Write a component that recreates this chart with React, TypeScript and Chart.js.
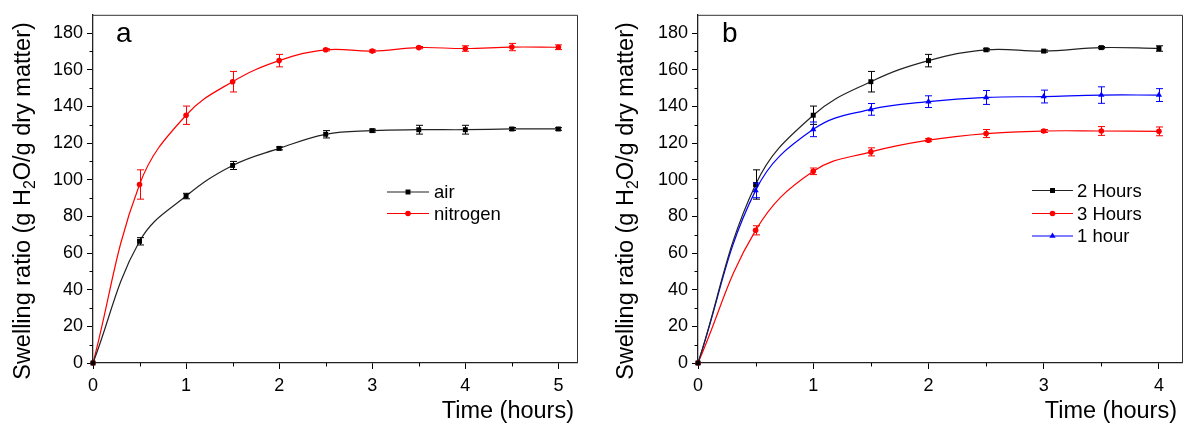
import React, { useEffect, useRef } from 'react';
import { Chart, registerables } from 'chart.js';

Chart.register(...registerables);

const FONT = "'Liberation Sans', Arial, sans-serif";

// ---------- data ----------
const timeA = [0, 0.5, 1, 1.5, 2, 2.5, 3, 3.5, 4, 4.5, 5];
const airValues = [0, 66.4, 91.1, 107.8, 117.1, 124.8, 126.8, 127.3, 127.3, 127.7, 127.7];
const airErrors = [0, 2, 1.5, 2.2, 0.8, 2, 0.8, 2.4, 2.4, 0.8, 0.7];
const nitrogenValues = [0, 97.4, 135.2, 153.5, 165, 170.9, 170.2, 172.1, 171.6, 172.4, 172.3];
const nitrogenErrors = [0, 8, 5, 5.6, 3.4, 0.6, 0.6, 0.6, 1.5, 2, 1.3];

const timeB = [0, 0.5, 1, 1.5, 2, 2.5, 3, 3.5, 4];
const twoHoursValues = [0, 97.4, 135.2, 153.5, 165, 170.9, 170.2, 172.1, 171.6];
const twoHoursErrors = [0, 8, 5, 5.6, 3.4, 0.6, 0.6, 0.6, 1.5];
const threeHoursValues = [0, 72.4, 104.6, 115.2, 121.6, 125.2, 126.6, 126.6, 126.4];
const threeHoursErrors = [0, 2.5, 1.8, 2.2, 0.8, 2.2, 0.8, 2.4, 2.4];
const oneHourValues = [0, 94.2, 127.5, 138.4, 142.6, 144.9, 145.4, 146.2, 146.2];
const oneHourErrors = [0, 4, 4, 3.2, 3.2, 3.8, 3.5, 4.5, 3.5];

const yMinorTicks = [10, 30, 50, 70, 90, 110, 130, 150, 170];
const xMinorTicksA = [0.5, 1.5, 2.5, 3.5, 4.5];
const xMinorTicksB = [0.5, 1.5, 2.5, 3.5];

const yTitleBefore = 'Swelling ratio (g H';
const yTitleSub = '2';
const yTitleAfter = 'O/g dry matter)';
const xTitle = 'Time (hours)';

type Marker = 'rect' | 'circle' | 'triangle';
type Series = {
  label: string;
  x: number[];
  y: number[];
  err: number[];
  color: string;
  lineColor: string;
  marker: Marker;
  radius: number;
};

type PanelCfg = {
  letter: string;
  series: Series[];
  xMax: number;
  xMinor: number[];
  yAxisWidth: number;
  rightPad: number;
  yTitleBaseX: number;
  xTitleRight: number;
  letterX: number;
  legendX0: number;
  legendX1: number;
  legendTextX: number;
  legendY: number[];
};

const panelA: PanelCfg = {
  letter: 'a',
  series: [
    { label: 'air', x: timeA, y: airValues, err: airErrors, color: '#000000', lineColor: '#222222', marker: 'rect', radius: 3.5 },
    { label: 'nitrogen', x: timeA, y: nitrogenValues, err: nitrogenErrors, color: '#ff0000', lineColor: '#ff0000', marker: 'circle', radius: 2.8 },
  ],
  xMax: 5.2,
  xMinor: xMinorTicksA,
  yAxisWidth: 93,
  rightPad: 19,
  yTitleBaseX: 30,
  xTitleRight: 574,
  letterX: 116,
  legendX0: 387,
  legendX1: 429,
  legendTextX: 434,
  legendY: [192, 213.5],
};

const panelB: PanelCfg = {
  letter: 'b',
  series: [
    { label: '2 Hours', x: timeB, y: twoHoursValues, err: twoHoursErrors, color: '#000000', lineColor: '#222222', marker: 'rect', radius: 3.5 },
    { label: '3 Hours', x: timeB, y: threeHoursValues, err: threeHoursErrors, color: '#ff0000', lineColor: '#ff0000', marker: 'circle', radius: 2.8 },
    { label: '1 hour', x: timeB, y: oneHourValues, err: oneHourErrors, color: '#0000ff', lineColor: '#0000ff', marker: 'triangle', radius: 3.6 },
  ],
  xMax: 4.2,
  xMinor: xMinorTicksB,
  yAxisWidth: 102,
  rightPad: 10,
  yTitleBaseX: 37,
  xTitleRight: 581,
  letterX: 126,
  legendX0: 436,
  legendX1: 477,
  legendTextX: 481,
  legendY: [190.5, 213.5, 236],
};

function drawMarker(ctx: CanvasRenderingContext2D, style: Marker, x: number, y: number, r: number, color: string) {
  ctx.save();
  ctx.fillStyle = color;
  ctx.beginPath();
  if (style === 'rect') {
    const s = r * Math.SQRT1_2;
    ctx.rect(x - s, y - s, 2 * s, 2 * s);
  } else if (style === 'triangle') {
    ctx.moveTo(x, y - r);
    ctx.lineTo(x + r * 0.866, y + r * 0.5);
    ctx.lineTo(x - r * 0.866, y + r * 0.5);
    ctx.closePath();
  } else {
    ctx.arc(x, y, r, 0, Math.PI * 2);
  }
  ctx.fill();
  ctx.restore();
}

function makeDecorPlugin(cfg: PanelCfg) {
  return {
    id: 'decor' + cfg.letter,
    afterDatasetsDraw(chart: any) {
      const ctx: CanvasRenderingContext2D = chart.ctx;
      const xs = chart.scales.x;
      const ys = chart.scales.y;
      cfg.series.forEach((s) => {
        ctx.save();
        ctx.strokeStyle = s.color;
        ctx.lineWidth = 1;
        s.x.forEach((xv, j) => {
          const e = s.err[j];
          if (!e) return;
          const px = Math.round(xs.getPixelForValue(xv)) + 0.5;
          const y1 = ys.getPixelForValue(s.y[j] + e);
          const y2 = ys.getPixelForValue(s.y[j] - e);
          ctx.beginPath();
          ctx.moveTo(px, y1);
          ctx.lineTo(px, y2);
          ctx.moveTo(px - 3.5, y1);
          ctx.lineTo(px + 3.5, y1);
          ctx.moveTo(px - 3.5, y2);
          ctx.lineTo(px + 3.5, y2);
          ctx.stroke();
        });
        ctx.restore();
      });
    },
    afterDraw(chart: any) {
      const ctx: CanvasRenderingContext2D = chart.ctx;
      const area = chart.chartArea;
      const xs = chart.scales.x;
      const ys = chart.scales.y;
      ctx.save();
      // frame top and right
      ctx.strokeStyle = '#333333';
      ctx.lineWidth = 1;
      ctx.beginPath();
      ctx.moveTo(area.left, area.top + 0.5);
      ctx.lineTo(area.right + 0.5, area.top + 0.5);
      ctx.lineTo(area.right + 0.5, area.bottom);
      ctx.stroke();
      // minor ticks
      ctx.strokeStyle = '#000000';
      ctx.beginPath();
      cfg.xMinor.forEach((v) => {
        const px = Math.round(xs.getPixelForValue(v)) + 0.5;
        ctx.moveTo(px, area.bottom);
        ctx.lineTo(px, area.bottom + 3.5);
      });
      yMinorTicks.forEach((v) => {
        const py = Math.round(ys.getPixelForValue(v)) + 0.5;
        ctx.moveTo(area.left, py);
        ctx.lineTo(area.left - 3.5, py);
      });
      ctx.stroke();

      // panel letter
      ctx.fillStyle = '#000000';
      ctx.font = `28px ${FONT}`;
      ctx.textAlign = 'left';
      ctx.textBaseline = 'alphabetic';
      ctx.fillText(cfg.letter, cfg.letterX, 41.5);

      // x title
      ctx.font = `23.5px ${FONT}`;
      ctx.textAlign = 'right';
      ctx.fillText(xTitle, cfg.xTitleRight, 418);

      // y title with subscript
      const mainFont = `23.5px ${FONT}`;
      const subFont = `16px ${FONT}`;
      ctx.font = mainFont;
      const w1 = ctx.measureText(yTitleBefore).width;
      const w3 = ctx.measureText(yTitleAfter).width;
      ctx.font = subFont;
      const w2 = ctx.measureText(yTitleSub).width;
      const total = w1 + w2 + w3;
      ctx.translate(cfg.yTitleBaseX, 201);
      ctx.rotate(-Math.PI / 2);
      ctx.textAlign = 'left';
      let cx = -total / 2;
      ctx.font = mainFont;
      ctx.fillText(yTitleBefore, cx, 0);
      cx += w1;
      ctx.font = subFont;
      ctx.fillText(yTitleSub, cx, 5);
      cx += w2;
      ctx.font = mainFont;
      ctx.fillText(yTitleAfter, cx, 0);
      ctx.setTransform(1, 0, 0, 1, 0, 0);

      // legend
      ctx.font = `18.5px ${FONT}`;
      ctx.textAlign = 'left';
      ctx.textBaseline = 'middle';
      cfg.series.forEach((s, i) => {
        const y = cfg.legendY[i];
        ctx.strokeStyle = s.lineColor;
        ctx.lineWidth = 1.2;
        ctx.beginPath();
        ctx.moveTo(cfg.legendX0, y);
        ctx.lineTo(cfg.legendX1, y);
        ctx.stroke();
        drawMarker(ctx, s.marker, (cfg.legendX0 + cfg.legendX1) / 2, y, s.radius, s.color);
        ctx.fillStyle = '#000000';
        ctx.fillText(s.label, cfg.legendTextX, y + 1);
      });
      ctx.restore();
    },
  };
}

function Panel({ cfg }: { cfg: PanelCfg }) {
  const ref = useRef<HTMLCanvasElement | null>(null);
  useEffect(() => {
    if (!ref.current) return;
    const tickFont = { family: FONT, size: 18 };
    const chart = new Chart(ref.current, {
      type: 'line',
      data: {
        datasets: cfg.series.map((s) => ({
          label: s.label,
          data: s.x.map((xv, j) => ({ x: xv, y: s.y[j] })),
          borderColor: s.lineColor,
          backgroundColor: s.color,
          pointBackgroundColor: s.color,
          pointBorderColor: s.color,
          pointBorderWidth: 0,
          pointStyle: s.marker,
          pointRadius: s.radius,
          borderWidth: 1.2,
          tension: 0.4,
          fill: false,
          clip: false as any,
        })),
      },
      options: {
        animation: false,
        responsive: false,
        maintainAspectRatio: false,
        layout: { padding: { left: 0, right: cfg.rightPad, top: 8, bottom: 0 } },
        plugins: {
          legend: { display: false },
          tooltip: { enabled: false },
          title: { display: false },
        },
        events: [],
        scales: {
          x: {
            type: 'linear',
            min: 0,
            max: cfg.xMax,
            ticks: {
              stepSize: 1,
              includeBounds: false,
              autoSkip: false,
              maxRotation: 0,
              padding: 6,
              color: '#000000',
              font: tickFont,
              callback: (v: any) => String(v),
            },
            grid: {
              drawOnChartArea: false,
              drawTicks: true,
              tickLength: 6,
              tickColor: '#000000',
              color: '#000000',
            },
            border: { color: '#222222', width: 1.3 },
            afterFit: (scale: any) => {
              scale.height = 67;
            },
          },
          y: {
            type: 'linear',
            min: 0,
            max: 190,
            ticks: {
              stepSize: 20,
              includeBounds: false,
              autoSkip: false,
              padding: 4,
              color: '#000000',
              font: tickFont,
              callback: (v: any) => String(v),
            },
            grid: {
              drawOnChartArea: false,
              drawTicks: true,
              tickLength: 6,
              tickColor: '#000000',
              color: '#000000',
            },
            border: { color: '#222222', width: 1.3 },
            afterFit: (scale: any) => {
              scale.width = cfg.yAxisWidth;
            },
          },
        },
      } as any,
      plugins: [makeDecorPlugin(cfg)],
    });
    return () => chart.destroy();
  }, [cfg]);
  return <canvas ref={ref} width={596} height={430} style={{ display: 'block', width: 596, height: 430 }} />;
}

export default function App() {
  return (
    <div
      style={{
        position: 'fixed',
        left: 0,
        top: 0,
        width: 1192,
        height: 430,
        display: 'flex',
        background: '#ffffff',
      }}
    >
      <Panel cfg={panelA} />
      <Panel cfg={panelB} />
    </div>
  );
}
